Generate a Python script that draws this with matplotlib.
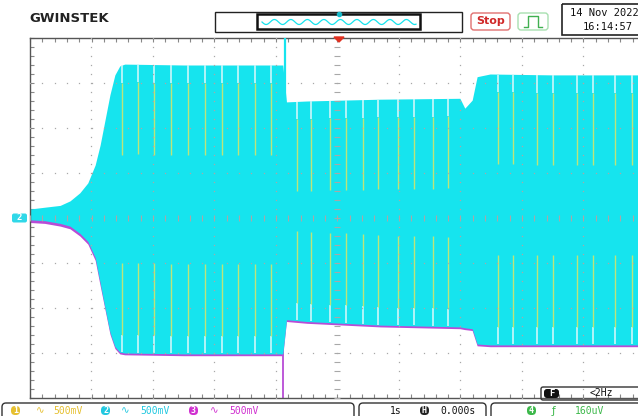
import numpy as np
import matplotlib
matplotlib.use("Agg")
import matplotlib.pyplot as plt
from matplotlib.patches import FancyBboxPatch, Rectangle, Polygon

W, H, DPI = 638, 416, 100

# ---- acquisition: 1 s/div, 500 mV/div, trigger at t = 0 ----
SEC_PER_DIV = 1.0
V_PER_DIV = 0.5

# envelope of the channel-2 burst (time in s, level in V)
env_t = [-5.00, -4.76, -4.51, -4.35, -4.19, -4.06, -3.94, -3.86, -3.78, -3.70,
         -3.62, -3.54, -3.46, -2.50, -1.50, -0.89, -0.83, -0.50, 0.69, 1.99,
         2.07, 2.19, 2.27, 2.48, 3.50, 5.00]
ch2_top = [0.10, 0.12, 0.14, 0.19, 0.28, 0.39, 0.59, 0.81, 1.09, 1.37,
           1.59, 1.69, 1.71, 1.70, 1.70, 1.70, 1.29, 1.30, 1.32, 1.33,
           1.22, 1.31, 1.57, 1.60, 1.59, 1.59]
ch2_bot = [-0.02, -0.03, -0.06, -0.09, -0.17, -0.26, -0.44, -0.72, -1.00, -1.27,
           -1.43, -1.49, -1.50, -1.51, -1.51, -1.51, -1.13, -1.15, -1.19, -1.21,
           -1.22, -1.23, -1.40, -1.41, -1.41, -1.41]
# channel 3 sits just under channel 2 and shows at its lower edge
ch3_bot = [-0.05, -0.06, -0.09, -0.12, -0.20, -0.29, -0.47, -0.75, -1.02, -1.29,
           -1.45, -1.51, -1.52, -1.53, -1.53, -1.53, -1.15, -1.17, -1.21, -1.23,
           -1.24, -1.25, -1.42, -1.43, -1.43, -1.43]
# channel 1 pulses riding inside the burst (s)
ch1_spike_t = [-3.50, -3.24, -2.98, -2.71, -2.43, -2.15, -1.88, -1.62, -1.34, -1.08,
               -0.66, -0.43, -0.12, 0.14, 0.42, 0.66, 0.98, 1.24, 1.55, 1.80,
               2.61, 2.85, 3.24, 3.50, 3.89, 4.15, 4.51, 4.79]
# switching glitch
glitch_t = -0.86
glitch_hi = 2.0
glitch_lo = -2.0

CYAN = "#16E4EE"
PALE = "#CDF7FA"
LIME = "#BDE47A"
MAGENTA = "#B84CD6"
GRID = "#A8A8A8"

fig = plt.figure(figsize=(W / DPI, H / DPI), dpi=DPI)
fig.patch.set_facecolor("white")

ax = fig.add_axes([30 / W, 18 / H, 615 / W, 360 / H])
ax.set_xlim(-5 * SEC_PER_DIV, 5 * SEC_PER_DIV)
ax.set_ylim(-4 * V_PER_DIV, 4 * V_PER_DIV)
ax.set_facecolor("white")

t = np.array(env_t)
top = np.array(ch2_top)
bot = np.array(ch2_bot)
b3 = np.array(ch3_bot)

# channel 3 band under the cyan trace
ax.fill_between(t, b3, bot + 0.06, color=MAGENTA, lw=0, zorder=1)
# glitch on channel 3 (only the part below the burst shows)
ax.vlines([glitch_t - 0.03], glitch_lo, 0, color=MAGENTA, lw=1.3, zorder=1)
# channel 2 burst
ax.fill_between(t, bot, top, color=CYAN, lw=0, zorder=2)

# channel 1 pulses and the comb gaps above/below them
st = np.array(ch1_spike_t)
st_top = np.interp(st, t, top)
st_bot = np.interp(st, t, bot)
ax.vlines(st, st_top - 0.20, st_top - 0.005, color=PALE, lw=1.2, zorder=3)
ax.vlines(st, st_top - 1.00, st_top - 0.20, color=LIME, lw=1.0, zorder=3)
ax.vlines(st, st_bot + 0.005, st_bot + 0.20, color=PALE, lw=1.2, zorder=3)
ax.vlines(st, st_bot + 0.20, st_bot + 1.00, color=LIME, lw=1.0, zorder=3)

# glitch on channel 2
ax.vlines([glitch_t], 0, glitch_hi, color=CYAN, lw=1.6, zorder=3)

# graticule dots
ys_sub = np.arange(-4, 4.001, 0.2) * V_PER_DIV
xs_sub = np.arange(-5, 5.001, 0.2) * SEC_PER_DIV
for gx in range(-4, 5):
    if gx == 0:
        continue
    ax.plot(np.full_like(ys_sub, gx * SEC_PER_DIV), ys_sub, ls="none",
            marker="s", ms=0.9, mec="none", color=GRID, zorder=5)
for gy in range(-3, 4):
    if gy == 0:
        continue
    ax.plot(xs_sub, np.full_like(xs_sub, gy * V_PER_DIV), ls="none",
            marker="s", ms=0.9, mec="none", color=GRID, zorder=5)
# centre cross with minor ticks
ax.plot(xs_sub, np.zeros_like(xs_sub), ls="none", marker="|", ms=4,
        mew=0.8, color=GRID, zorder=5)
ax.plot(np.zeros_like(ys_sub), ys_sub, ls="none", marker="_", ms=5,
        mew=0.8, color=GRID, zorder=5)

ax.set_xticks(xs_sub)
ax.set_yticks(ys_sub)
ax.tick_params(which="both", direction="in", length=3, width=0.8, color="#888888",
               top=True, right=True, labelbottom=False, labelleft=False)
for s in ax.spines.values():
    s.set_color("#555555")
    s.set_linewidth(1.0)

# ---- screen furniture in pixel coordinates ----
ov = fig.add_axes([0, 0, 1, 1], facecolor="none")
ov.set_xlim(0, W)
ov.set_ylim(H, 0)
ov.axis("off")

MONO = "DejaVu Sans Mono"

ov.text(29, 19, "GWINSTEK", fontsize=9.5, fontweight="bold", color="#222222",
        va="center", ha="left", family="DejaVu Sans")

# memory bar
ov.add_patch(Rectangle((215, 12), 247, 20, fill=False, ec="#222222", lw=1.0))
ov.add_patch(Rectangle((257, 14), 163, 15, fill=False, ec="#111111", lw=1.8))
wx = np.linspace(262, 416, 300)
ov.plot(wx, 22 + 2.5 * np.sin((wx - 262) / 16.5 * 2 * np.pi), color=CYAN, lw=0.9)
ov.plot([339], [14], marker="o", ms=3, color="#18B8C8")

# run state
ov.add_patch(FancyBboxPatch((471, 13), 39, 17, boxstyle="round,pad=0,rounding_size=3",
                            fill=False, ec="#E07070", lw=1.0))
ov.text(490.5, 21.5, "Stop", fontsize=8, fontweight="bold", color="#D02828",
        ha="center", va="center", family="DejaVu Sans")
ov.add_patch(FancyBboxPatch((518, 13), 30, 17, boxstyle="round,pad=0,rounding_size=3",
                            fill=False, ec="#A8E0B0", lw=1.0))
ov.plot([524, 528, 528, 538, 538, 542], [27, 27, 16, 16, 27, 27], color="#40B050", lw=1.0)

# date / time
ov.add_patch(Rectangle((562, 4), 90, 31, fill=False, ec="#222222", lw=1.2))
ov.text(570, 13, "14 Nov 2022", fontsize=7.5, color="#111111", ha="left",
        va="center", family=MONO)
ov.text(583, 27, "16:14:57", fontsize=7.5, color="#111111", ha="left",
        va="center", family=MONO)

# trigger position marker
ov.add_patch(Polygon([[334, 37], [344, 37], [339, 42]], closed=True, color="#E03020"))

# channel 2 ground marker
ov.add_patch(FancyBboxPatch((12, 213.5), 15, 9, boxstyle="round,pad=0,rounding_size=2",
                            color="#30D8E8", lw=0))
ov.text(19.5, 218, "2", fontsize=6.5, color="white", fontweight="bold",
        ha="center", va="center", family=MONO)

# trigger frequency box
ov.add_patch(FancyBboxPatch((541, 387), 110, 13, boxstyle="round,pad=0,rounding_size=2",
                            fill=False, ec="#333333", lw=1.0))
ov.add_patch(FancyBboxPatch((544, 389), 15, 9, boxstyle="round,pad=0,rounding_size=3",
                            color="#111111", lw=0))
ov.text(551.5, 393.5, "F", fontsize=6.5, color="white", fontweight="bold",
        ha="center", va="center", family=MONO)
ov.text(590, 393.5, "<2Hz", fontsize=7, color="#111111", ha="left", va="center",
        family=MONO)

# bottom status line
ov.add_patch(FancyBboxPatch((2, 403), 352, 20, boxstyle="round,pad=0,rounding_size=4",
                            fill=False, ec="#333333", lw=1.0))
ov.add_patch(FancyBboxPatch((359, 403), 127, 20, boxstyle="round,pad=0,rounding_size=4",
                            fill=False, ec="#333333", lw=1.0))
ov.add_patch(FancyBboxPatch((491, 403), 160, 20, boxstyle="round,pad=0,rounding_size=4",
                            fill=False, ec="#333333", lw=1.0))


def badge(x, label, color, fg="white"):
    ov.add_patch(FancyBboxPatch((x, 406), 9, 9, boxstyle="round,pad=0,rounding_size=4",
                                color=color, lw=0))
    ov.text(x + 4.5, 410.5, label, fontsize=6, color=fg, fontweight="bold",
            ha="center", va="center", family=MONO)


YEL = "#E6C030"
CY2 = "#22C8E0"
MAG = "#D030D0"
GRN = "#3CB84A"

channels = [("1", YEL, 11, 36, 53), ("2", CY2, 101, 121, 140), ("3", MAG, 189, 210, 229)]
for lab, col, bx, sx, tx in channels:
    badge(bx, lab, col)
    ov.text(sx, 410.5, "\u223F", fontsize=7.5, color=col, ha="left", va="center",
            family="DejaVu Sans")
    ov.text(tx, 410.5, "500mV", fontsize=7, color=col, ha="left", va="center",
            family=MONO)

ov.text(390, 410.5, "1s", fontsize=7, color="#111111", ha="left", va="center", family=MONO)
badge(420, "H", "#222222")
ov.text(440, 410.5, "0.000s", fontsize=7, color="#111111", ha="left", va="center",
        family=MONO)
badge(527, "4", GRN)
ov.text(552, 410.5, "\u0192", fontsize=7.5, color=GRN, ha="left", va="center",
        family="DejaVu Sans")
ov.text(575, 410.5, "160uV", fontsize=7, color=GRN, ha="left", va="center", family=MONO)

fig.savefig("out.png", dpi=DPI, facecolor="white")
